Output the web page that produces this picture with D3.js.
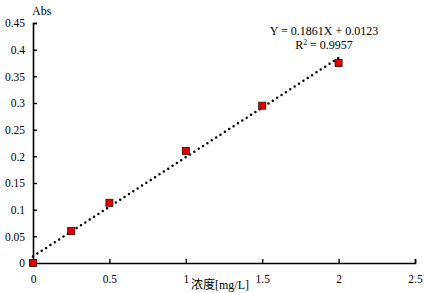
<!DOCTYPE html>
<html lang="zh">
<head>
<meta charset="UTF-8">
<title>Abs vs 浓度</title>
<script src="https://d3js.org/d3.v7.min.js"></script>
<style>
  body { margin: 0; background: #fff; }
  .tick text { font-family: "Liberation Serif", "Times New Roman", serif; font-size: 11.5px; fill: #000; }
  .lbl { font-family: "Liberation Serif", "Times New Roman", "Noto Sans CJK SC", serif; font-size: 12px; fill: #000; }
</style>
</head>
<body>
<svg width="424" height="293"></svg>
<script>
var conc = [0, 0.25, 0.5, 1, 1.5, 2];
var abs = [0, 0.06, 0.113, 0.21, 0.295, 0.375];
var slope = 0.1861, intercept = 0.0123;
var xTicks = [0, 0.5, 1, 1.5, 2, 2.5];
var yTicks = [0, 0.05, 0.1, 0.15, 0.2, 0.25, 0.3, 0.35, 0.4, 0.45];

var svg = d3.select("svg");
var x = d3.scaleLinear().domain([0, 2.5]).range([33, 415]);
var y = d3.scaleLinear().domain([0, 0.45]).range([263, 23]);

// axes, ticks point inward
svg.append("g")
  .attr("transform", "translate(0," + y(0) + ")")
  .call(d3.axisBottom(x).tickValues(xTicks).tickSize(-4).tickPadding(12)
    .tickFormat(function(d) { return d3.format("")(d); }));
svg.append("g")
  .attr("transform", "translate(" + x(0) + ",0)")
  .call(d3.axisLeft(y).tickValues(yTicks).tickSize(-4).tickPadding(8)
    .tickFormat(function(d) { return d3.format("")(+d.toFixed(2)); }));
svg.selectAll(".domain").attr("stroke", "#000").attr("stroke-width", 1.6);
svg.selectAll(".tick line").attr("stroke", "#000").attr("stroke-width", 1.4);

// trend line
svg.append("line")
  .attr("x1", x(0)).attr("y1", y(intercept))
  .attr("x2", x(2)).attr("y2", y(slope * 2 + intercept))
  .attr("stroke", "#000").attr("stroke-width", 2.5)
  .attr("stroke-linecap", "round")
  .attr("stroke-dasharray", "0 5.2");

// points
svg.selectAll(".pt").data(conc).enter().append("rect")
  .attr("class", "pt")
  .attr("x", function(d) { return x(d) - 3.5; })
  .attr("y", function(d, i) { return y(abs[i]) - 3.5; })
  .attr("width", 7).attr("height", 7)
  .attr("fill", "#e00000").attr("stroke", "#400000").attr("stroke-width", 0.8);

// labels
svg.append("text").attr("class", "lbl").attr("x", 32).attr("y", 15).text("Abs");
svg.append("text").attr("class", "lbl").attr("x", 220).attr("y", 289)
  .attr("text-anchor", "middle").text("浓度[mg/L]");
svg.append("text").attr("class", "lbl").attr("x", 324).attr("y", 35)
  .attr("text-anchor", "middle").text("Y = 0.1861X + 0.0123");
var r2 = svg.append("text").attr("class", "lbl").attr("x", 324).attr("y", 48.5)
  .attr("text-anchor", "middle");
r2.append("tspan").text("R");
r2.append("tspan").attr("dy", -3.5).attr("font-size", "7.5px").text("2");
r2.append("tspan").attr("dy", 3.5).text(" = 0.9957");
</script>
</body>
</html>
